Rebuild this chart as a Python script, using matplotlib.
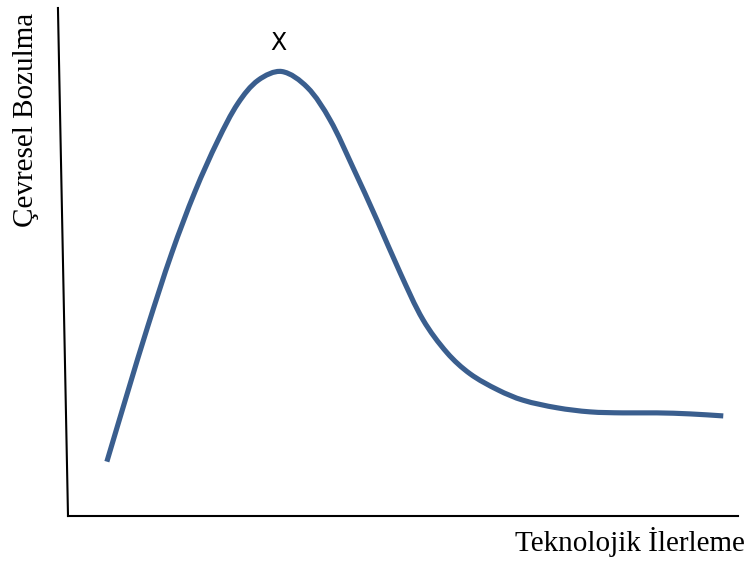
import matplotlib
matplotlib.use("Agg")
import matplotlib.pyplot as plt
from matplotlib.path import Path
from matplotlib.patches import PathPatch
import numpy as np

# Environmental Kuznets-style curve (0-100 scale)
tech = [5.8, 9.0, 11.9, 15.5, 19.0, 22.4, 25.4, 28.4, 31.9, 35.7, 39.1,
        42.5, 46.1, 49.6, 53.0, 56.6, 60.0, 64.2, 67.9, 73.0, 77.9, 82.8,
        87.9, 92.8, 97.8]
degradation = [10.7, 24.8, 37.3, 51.8, 64.0, 74.0, 81.3, 85.8, 87.5,
               84.4, 78.0, 68.7, 58.3, 47.8, 38.6, 32.1, 28.0, 24.8, 22.8,
               21.3, 20.5, 20.3, 20.3, 20.1, 19.7]

x_label = "Teknolojik İlerleme"
y_label = "Çevresel Bozulma"
peak_label = "X"


def smooth_path(xs, ys, sx=6.7, sy=5.08):
    # chord-length Catmull-Rom through the read points, as cubic Beziers
    pts = np.column_stack([xs, ys]).astype(float)
    scale = np.array([sx, sy])
    d = np.linalg.norm(np.diff(pts * scale, axis=0), axis=1)
    t = np.concatenate([[0], np.cumsum(d)])
    n = len(pts)
    tang = np.zeros_like(pts)
    tang[0] = (pts[1] - pts[0]) / (t[1] - t[0])
    tang[-1] = (pts[-1] - pts[-2]) / (t[-1] - t[-2])
    for i in range(1, n - 1):
        tang[i] = (pts[i + 1] - pts[i - 1]) / (t[i + 1] - t[i - 1])
    verts = [pts[0]]
    codes = [Path.MOVETO]
    for i in range(n - 1):
        h = t[i + 1] - t[i]
        verts += [pts[i] + tang[i] * h / 3, pts[i + 1] - tang[i + 1] * h / 3,
                  pts[i + 1]]
        codes += [Path.CURVE4] * 3
    return Path(verts, codes)


W, H = 748, 561
fig = plt.figure(figsize=(W / 100, H / 100), dpi=100)
ax = fig.add_axes([68 / W, 45 / H, 670 / W, 508 / H])
ax.set_xlim(0, 100)
ax.set_ylim(0, 100)
ax.axis("off")

# hand-drawn looking axes (the vertical one leans a little)
ax.plot([0, 100], [0, 0], color="black", lw=1.5, clip_on=False)
ax.plot([0, -1.5], [0, 100], color="black", lw=1.5, clip_on=False)

curve = PathPatch(smooth_path(tech, degradation), facecolor="none",
                  edgecolor="#3a5e8e", lw=3.7, capstyle="butt",
                  joinstyle="round", clip_on=False)
ax.add_patch(curve)

i_peak = int(np.argmax(degradation))
ax.text(tech[i_peak] - 0.45, degradation[i_peak] + 4.3, peak_label,
        ha="center", va="baseline", fontsize=17, family="DejaVu Sans")

fig.text(745 / W, 1 - 551 / H, x_label, ha="right", va="baseline",
         fontsize=21, family="Liberation Serif")
fig.text(33 / W, 1 - 120 / H, y_label, ha="center", va="baseline",
         rotation=90, rotation_mode="anchor",
         fontsize=21, family="Liberation Serif")

fig.savefig("out.png", dpi=100)
plt.close(fig)
